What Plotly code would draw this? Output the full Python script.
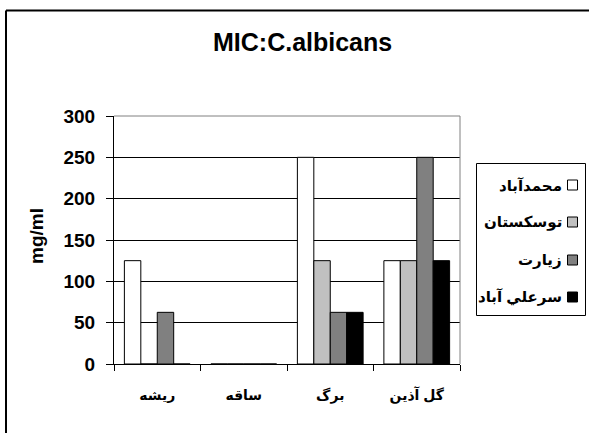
import plotly.graph_objects as go

categories = ["ریشه", "ساقه", "برگ", "گل آذین"]
series_names = ["محمدآباد", "توسکستان", "زیارت", "سرعلي آباد"]
series_values = [
    [125, 0, 250, 125],
    [0, 0, 125, 125],
    [62.5, 0, 62.5, 250],
    [0, 0, 62.5, 125],
]
series_colors = ["#FFFFFF", "#C0C0C0", "#808080", "#000000"]
y_ticks = [0, 50, 100, 150, 200, 250, 300]

W, H = 589, 433
L, R, T, B = 114, 460, 116, 364
FONT = "Arial, Liberation Sans, DejaVu Sans, sans-serif"


def px(x):
    return (x - L) / (R - L)


def py(y):
    return (B - y) / (B - T)


fig = go.Figure()
for name, vals, col in zip(series_names, series_values, series_colors):
    fig.add_trace(go.Bar(x=categories, y=vals, name=name, marker_color=col,
                         marker_line_color="black", marker_line_width=1,
                         showlegend=False, hoverinfo="skip"))

shapes = []
annotations = []
# outer frame (top and left visible)
shapes.append(dict(type="line", xref="paper", yref="paper", x0=px(6), x1=px(600), y0=py(10.5), y1=py(10.5),
                   line=dict(color="black", width=2)))
shapes.append(dict(type="line", xref="paper", yref="paper", x0=px(6), x1=px(6), y0=py(10.5), y1=py(440),
                   line=dict(color="black", width=2)))
# plot area border (gray) top and right
shapes.append(dict(type="line", xref="paper", yref="paper", x0=0, x1=1, y0=1, y1=1,
                   line=dict(color="#808080", width=1), layer="above"))
shapes.append(dict(type="line", xref="paper", yref="paper", x0=1, x1=1, y0=0, y1=1,
                   line=dict(color="#808080", width=1), layer="above"))
# legend box
shapes.append(dict(type="rect", xref="paper", yref="paper", x0=px(476.5), x1=px(585.5), y0=py(163.5), y1=py(315.5),
                   line=dict(color="black", width=1), fillcolor="white"))
leg_y = [185, 222, 260, 297]
for name, col, yy in zip(series_names, series_colors, leg_y):
    shapes.append(dict(type="rect", xref="paper", yref="paper", x0=px(567.5), x1=px(577.5), y0=py(yy - 5),
                       y1=py(yy + 5), line=dict(color="black", width=1), fillcolor=col))
    annotations.append(dict(text=f"<b>{name}</b>", xref="paper", yref="paper", x=px(564), y=py(yy),
                            xanchor="right", yanchor="middle", showarrow=False,
                            font=dict(family=FONT, size=15, color="black")))

annotations.append(dict(text="<b>MIC:C.albicans</b>", xref="paper", yref="paper", x=px(302), y=py(42),
                        xanchor="center", yanchor="middle", showarrow=False,
                        font=dict(family=FONT, size=25, color="black")))
annotations.append(dict(text="<b>mg/ml</b>", xref="paper", yref="paper", x=px(36), y=py(236),
                        xanchor="center", yanchor="middle", showarrow=False, textangle=-90,
                        font=dict(family=FONT, size=19, color="black")))

fig.update_layout(
    width=W, height=H,
    margin=dict(l=L, r=W - R, t=T, b=H - B, autoexpand=False),
    paper_bgcolor="white", plot_bgcolor="white",
    barmode="group", bargap=0.24, bargroupgap=0,
    shapes=shapes, annotations=annotations,
    showlegend=False,
    xaxis=dict(type="category", showline=True, linecolor="black", linewidth=1,
               ticks="outside", tickson="boundaries", ticklen=6, tickcolor="black",
               showgrid=False, tickfont=dict(family=FONT, size=14, color="black"),
               ticklabelstandoff=18),
    yaxis=dict(range=[0, 300], tickvals=y_ticks, ticktext=[f"<b>{v}</b>" for v in y_ticks],
               showline=True, linecolor="black", linewidth=1,
               ticks="outside", ticklen=7, tickcolor="black",
               showgrid=True, gridcolor="black", gridwidth=1, zeroline=False,
               tickfont=dict(family=FONT, size=19, color="black"), ticklabelstandoff=7),
)
fig.update_xaxes(ticktext=[f"<b>{c}</b>" for c in categories], tickvals=categories)

fig.write_html("out.html", config={"displayModeBar": False},
               post_script="document.body.style.margin='0px';")
